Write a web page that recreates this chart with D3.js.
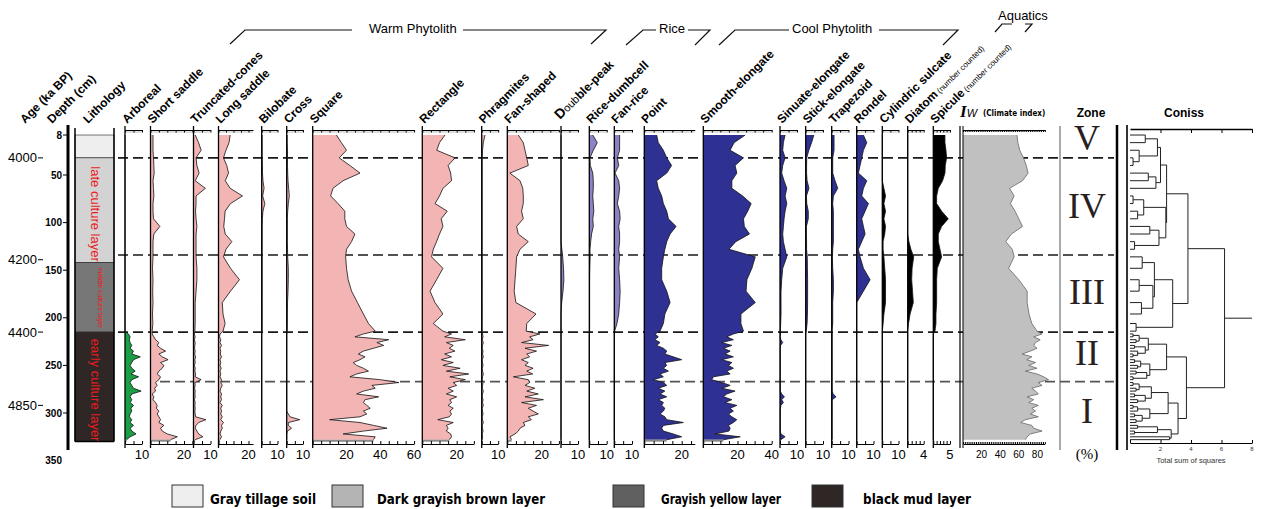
<!DOCTYPE html>
<html>
<head>
  <meta charset="utf-8">
  <title>Phytolith diagram</title>
  <script src="https://d3js.org/d3.v7.min.js"></script>
  <style>
    body { margin: 0; background: #fff; }
    svg { font-family: "Liberation Sans", Arial, sans-serif; display: block; }
    .hdr { font-size: 12px; font-weight: bold; fill: #000; }
    .narrow { font-family: "Liberation Sans Narrow", "DejaVu Sans Condensed", sans-serif; }
  </style>
</head>
<body>
<div id="chart"></div>
<script>
// ---- data ----
// sample depths in cm: coarse in upper part, dense in the early culture layer
var depths = [8,16,24,32,40,48,56,64,72,80,88,96,104,112,120,128,136,148,160,172,184,196,206,214,
  217,220,223,226,229,232,235,238,241,244,247,250,253,256,259,262,265,268,271,274,277,280,283,286,289,292,295,298,301,304,307,310,313,316,319,322,325,328];

var arboreal = [0,0,0,0,0,0,0,0,0,0,0,0,0,0,0,0,0,0,0,0,0,0,0,0,
  2,3,2.5,3,4,3,5,4,9,5,4,3,4,6,3.5,8,4,3,4,5,9.5,4,3,4,3,5,3.5,4,3,2.5,4,3,5,3,4,6.5,3,1];
var shortSaddle = [1.5,1.5,1.5,1.8,2,2.2,1.5,1.8,2,1.5,1.5,1.8,5.6,2,1.5,1.5,1.5,1.2,1.5,1.3,1.5,1.2,1.4,1,
  1,2,3,5,4,6,9,5,7,10.5,6,8,7,5,4,6,5,3,4,2.5,3,1,2,1.5,3,4,3.5,5,4,5,6,5,8,6,7,10,16,12];
var truncatedCones = [1,3,4.5,1.5,2,3.3,1,7,1.5,1.5,1.2,1.5,2,1.5,1.5,1.5,1.5,2,2,1.5,1,1,1,0.8,
  0.5,1,0.5,1,0.8,0.6,1,0.7,1.2,0.8,1,0.6,1,0.8,1.2,1,4.5,0.8,1,0.6,1,0.8,1,0.6,1,0.8,1,0.8,1,1.2,7.3,3,1.5,1,2,3,5.5,1];
var longSaddle = [7.8,7,5,3.3,5.5,6.7,4.5,7.8,16,8,4.4,4,3.5,4.5,8.9,5,3.3,8,14,8,2.5,3,4.4,3,
  1,0.7,1.5,1,2,1,1.5,1.2,2,1,1.5,1,1.8,1,1.5,1,2,1.5,2.5,1.5,1,2,1.5,2,1,2.5,1.5,2,1.5,2.5,1.5,3.3,2,2.5,1.5,1,2,1];
var bilobate = [0.3,0.3,0.3,0.3,0.5,0.5,0.8,1.5,0.6,2,0.8,0.4,0.3,0.3,0.3,0.3,0.3,0.3,0.3,0.3,0.3,0.3,0.3,0.3,
  0,0,0,0,0,0,0,0,0,0,0,0,0,0,0,0,0,0,0,0,0,0,0,0,0,0,0,0,0,0,0,0,0,0,0,0,0,0];
var cross = [0.3,0.3,0.5,0.5,0.5,0.6,0.8,1.2,1.6,1,0.6,0.4,0.4,0.4,0.4,0.5,0.6,1,1,0.8,0.5,0.4,0.4,0.3,
  0,0,0,0,0,0,0,0,0,0,0,0,0,0,0,0,0,0,0,0,0,0,0,0,0,0,0,0,1,2,8,1,1,3,0.5,0,0,0];
var square = [14,17,20,15.7,22,28,18,12,10.6,15,19,19,20,25,23,20,19.5,20,21,23,26.5,30,33,37,
  30,25,45,38,42,36,30,27,31,28,24,26,30,33,26,22,40,51,35,37,30,26,39,31,30,32,34,30,32,28,10,28,36,44,30,18,37,36];
var rectangle = [13.2,10,8.4,19,15,16.5,17,12,10,7.4,14.5,11,12,10,8.3,6.4,5.4,12,8.3,4.5,7.4,12,6.4,12,
  17,13,25,14,18,15.7,19,13,17,11,18,12,22,14,27,16,25,18,20,15,18,14,20,16,17,15,18,16,17,15.7,9,18,14,15,14,16.5,17,15.7];
var phragmites = [2,1,0.5,0.3,0.3,0.3,0.3,0.3,0.3,0.3,0.3,0.3,0.3,0.3,0.3,0.3,0.3,0.3,0.3,0.3,0.3,0.3,0.3,0.3,
  0.5,0.8,0.3,1,0.5,0.3,0.8,0.5,1,0.3,0.5,0.8,0.3,0.5,1,0.5,0.3,0.8,0.5,0.3,1,0.5,0.3,0.8,0.5,1,0.3,0.5,0.8,0.3,0.5,1,0.3,0.5,0.8,0.3,0.5,0.3];
var fanShaped = [6.4,9.3,10.3,11.3,12.2,1.5,7.4,9,9.3,9.3,8.3,9.3,5.4,6.4,12.2,7.4,5.4,5,4.5,4,5,16.7,11.3,11,
  19,13,15,8.3,24,10.3,17,11.3,13,8.3,12.2,10.3,15,11.3,14.8,3.5,12.2,13,10.3,16,11.3,18,10.3,21,8.3,17,12.2,15,18,12.2,14,9.3,10.3,7.4,6.4,4.5,1.5,2.5];
var doublePeak = [0,0,0,0,0,0,0,0,0,0,0,0,0,0,0,0.5,1,1.5,1.7,1.2,0.4,0,0,0,
  0,0,0,0,0,0,0,0,0,0,0,0,0,0,0,0,0,0,0,0,0,0,0,0,0,0,0,0,0,0,0,0,0,0,0,0,0,0];
var riceDumbcell = [2,4.6,2.3,0.4,0.6,2,2.3,2.3,2,2.3,2.6,2,2.3,1.3,0.8,0.4,0.5,0.3,0.2,0.2,0.2,0.2,0.2,0.2,
  0,0,0,0,0,0,0,0,0,0,0,0,0,0,0,0,0,0,0,0,0,0,0,0,0,0,0,0,0,0,0,0,0,0,0,0,0,0];
var fanRice = [3,3,3,1.7,2.5,0.4,2.5,3,2.5,1.7,3,3.3,2.5,3,3,2.5,3,2.5,3,3.3,3,2.5,1.5,0.2,
  0,0,0,0,0,0,0,0,0,0,0,0,0,0,0,0,0,0,0,0,0,0,0,0,0,0,0,0,0,0,0,0,0,0,0,0,0,0];
var point = [6.6,7.5,10.2,12,14.6,12,6.6,7.5,9.3,10.2,12,12.9,17,13.8,12,11,10.2,9.3,9.3,12,13.8,11,10.2,8.4,
  5.7,7.5,5.7,8.4,6.6,10.2,12,11,15.5,20,11,12,10.2,12.9,8.4,10.2,4.8,10.2,12,7.5,11,8.4,12,7.5,10.2,9.3,11,10.2,8.4,11,12,20.9,10.2,9.3,10.2,15.5,20,12];
var smoothElongate = [24.5,18,15.7,23.5,18.6,19.6,16.7,16.7,23,28,26,23.5,24,27,19,15,30.4,28.4,25.5,25,30.4,22,22,23.5,
  17.6,13.7,17.6,10.8,16.7,11.8,15.7,12.7,17.6,10.8,16.7,14.7,17.6,13.7,15.7,5.9,4.9,10.8,15.7,10.8,18.6,13.7,11.8,16.7,12.7,19.6,15.7,17.6,14.7,16.7,19.6,17.6,14.7,15.7,15,6.9,21.6,11.8];
var sinuateElongate = [3,2,1.6,3,1.6,1,2.4,4,3,4,3,2.4,2,1.6,2,3,4,1.6,1,0.6,0.6,0.6,0.4,0.2,
  0.3,0,0.5,1.6,0.3,0.2,0.2,0.2,0.2,0.2,0.2,0.2,0.2,0.2,0.2,0.2,0.2,0.2,0.2,0.2,0.2,1,2.6,1,2,0.5,0.3,0.2,0.2,0.2,0.2,0.2,0.2,0.2,0.2,0.5,3,0.5];
var stickElongate = [4.7,3.4,1.8,0.6,0.5,0.5,0.8,1.9,0.4,0.6,1.5,1.5,0.4,0.4,0.5,0.5,0.9,1,1.1,1.1,1.1,1,0.8,0.3,
  0,0,0,0,0,0,0,0,0,0,0,0,0,0,0,0,0,0,0,0,0,0,0,0,0,0,0,0,0,0,0,0,0,0,0,0,0,0];
var trapezoid = [1.4,1.4,1.4,0.6,0.6,0.6,2,3.6,1,0.6,1,1,1,1,1,0.6,0.4,0.6,1,1,0.6,0.6,0.6,0.2,
  0.3,0.3,0.3,0.3,0.3,0.3,0.3,0.3,0.3,0.3,0.3,0.3,0.3,0.3,0.3,0.3,0.3,0.3,0.3,0.3,0.3,0.8,2.6,0.3,0.3,0.3,0.3,0.3,0.3,0.3,0.3,0.3,0.3,0.3,0.3,0.3,0.3,0.3];
var rondel = [4,6,4,3,2,1,6,4,3,7,5,3,4,5,3,1,2,4,8,4,0,0,0,0,
  0,0,0,0,0,0,0,0,0,0,0,0,0,0,0,0,0,0,0,0,0,0,0,0,0,0,0,0,0,0,0,0,0,0,0,0,0,0];
var cylindricSulcate = [0,0,0,0,0,0,0,1,2,1,2,1,2,1.5,0.5,0.5,1,1.5,2,2,2,1,0.5,0,
  0,0,0,0,0,0,0,0,0,0,0,0,0,0,0,0,0,0,0,0,0,0,0,0,0,0,0,0,0,0,0,0,0,0,0,0,0,0];
var diatom = [0,0,0,0,0,0,0,0,0,0,0,0,0,0,0.3,0.8,1.5,1.1,1,1.2,1.4,0.6,0.2,0,
  0,0,0,0,0,0,0,0,0,0,0,0,0,0,0,0,0,0,0,0,0,0,0,0,0,0,0,0,0,0,0,0,0,0,0,0,0,0];
var spicule = [3.5,3.5,3.8,4,3.6,3.5,2.8,1.5,1,1,2.5,4.5,2.5,1.5,1.5,2,2.5,1.2,1,1,1,0.8,0.8,0.5,
  0,0,0,0,0,0,0,0,0,0,0,0,0,0,0,0,0,0,0,0,0,0,0,0,0,0,0,0,0,0,0,0,0,0,0,0,0,0];
var iw = [58,59,61,65,68,70,64,50,55,51,56,60,64,52,46,53,55,49,60,69,69,71,74,79.6,
  85,76,83,78,76,79.6,72.5,63.6,74,68.6,78,70.7,79.6,67,79.6,86.8,92,81,85,74,78,81,69,76,70.7,81,74,78,72.5,81,67,62,74,76,85,72.5,69,67];

// lithology, zones, ages
var lithTop = [8, 32, 142, 215];
var lithBottom = [32, 142, 215, 330];
var lithNames = ["Gray tillage soil", "Dark grayish brown layer", "Grayish yellow layer", "black mud layer"];
var lithLabels = ["late culture layer", "middle culture layer", "early culture layer"];
var lithLabelDepths = [91, 179, 276];
var zoneDepths = [32, 134, 215, 267];
var zoneNames = ["V", "IV", "III", "II", "I"];
var zoneLabelDepths = [24, 95, 186, 250, 310];
var ageLabels = [4000, 4200, 4400, 4850];
var ageDepths = [32, 139, 215, 292];
var depthTicks = [8, 50, 100, 150, 200, 250, 300, 350];

// CONISS dendrogram: [height, left, right], leaves = sample index
var clusterVIV = [2.4,
  [2.0, [1.8, [1.0, 0, 1], [0.6, 2, [0.2, 3, 4]]], [1.7, [1.2, 5, 6], 7]],
  [2.35, [0.9, [0.2, 8, 9], [0.5, 10, 11]], [1.9, [1.3, 12, 13], [0.3, 14, 15]]]];
var clusterIII = [2.8, [1.6, [0.8, 16, 17], [1.5, [0.6, 18, 19], [0.75, 20, 21]]], [0.4, 22, 23]];
var clusterII = [2.4,
  [1.2, [0.6, [0.2, 24, 25], [0.4, 26, 27]], [1.0, [0.3, 28, 29], [0.5, 30, [0.2, 31, 32]]]],
  [1.3, [0.7, [0.3, 33, 34], [0.5, 35, 36]], [1.1, [0.4, 37, 38], [0.2, 39, 40]]]];
var clusterI = [3.15,
  [2.5, [1.4, [0.6, [0.2, 41, 42], [0.4, 43, 44]], [1.0, [0.3, 45, 46], [0.5, 47, 48]]],
        [1.3, [0.5, [0.2, 49, 50], 51], [0.8, [0.3, 52, 53], [0.4, 54, 55]]]],
  [2.7, [1.8, [0.5, 56, 57], [0.3, 58, 59]], [2.6, 60, 61]]];
var conissTree = [6.2, [3.8, clusterVIV, clusterIII], [3.7, clusterII, clusterI]];

// ---- styles / layout ----
var PINK = "#f3b4b4", NAVY = "#2e3192", LAV = "#8a84c6", GREEN = "#1a9e46", BLACK = "#000";
var lithColors = ["#eeeeee", "#d3d3d3", "#777777", "#2f2725"];
var legendColors = ["#eeeeee", "#b4b4b4", "#606060", "#2f2725"];

var panels = [
  {name: [["Arboreal"]], values: arboreal, x0: 125, k: 1.7, max: 10, step: 5, labels: [10], fill: GREEN},
  {name: [["Short saddle"]], values: shortSaddle, x0: 150.5, k: 1.675, max: 25, step: 5, labels: [20], fill: PINK},
  {name: [["Truncated-cones"]], values: truncatedCones, x0: 193.5, k: 1.7, max: 10, step: 5, labels: [10], fill: PINK},
  {name: [["Long saddle"]], values: longSaddle, x0: 218.5, k: 1.5, max: 23, step: 5, labels: [20], fill: PINK},
  {name: [["Bilobate"]], values: bilobate, x0: 261.7, k: 1.58, max: 10, step: 5, labels: [10], fill: PINK},
  {name: [["Cross"]], values: cross, x0: 286.7, k: 1.63, max: 10, step: 5, labels: [10], fill: PINK},
  {name: [["Square"]], values: square, x0: 312.7, k: 1.69, max: 60, step: 5, labels: [20, 40, 60], fill: PINK},
  {name: [["Rectangle"]], values: rectangle, x0: 422.3, k: 1.72, max: 30, step: 5, labels: [20], fill: PINK},
  {name: [["Phragmites"]], values: phragmites, x0: 481.7, k: 1.65, max: 10, step: 5, labels: [10], fill: PINK},
  {name: [["Fan-shaped"]], values: fanShaped, x0: 507.3, k: 1.72, max: 30, step: 5, labels: [20], fill: PINK},
  {name: [["D", 14, "bold"], ["oub", 11, "normal"], ["ble-peak", 12, "bold"]], values: doublePeak, x0: 561, k: 1.7, max: 10, step: 5, labels: [10], fill: LAV, dx: -3, dy: -4},
  {name: [["Rice-dumbcell"]], values: riceDumbcell, x0: 589.3, k: 1.74, max: 10, step: 5, labels: [10], fill: LAV},
  {name: [["Fan-rice"]], values: fanRice, x0: 614.3, k: 1.77, max: 10, step: 5, labels: [10], fill: LAV},
  {name: [["Point"]], values: point, x0: 644.3, k: 1.87, max: 27, step: 5, labels: [20], fill: NAVY},
  {name: [["Smooth-elongate"]], values: smoothElongate, x0: 703.3, k: 1.71, max: 40, step: 5, labels: [20, 40], fill: NAVY},
  {name: [["Sinuate-elongate"]], values: sinuateElongate, x0: 780, k: 1.7, max: 10, step: 5, labels: [10], fill: NAVY},
  {name: [["Stick-elongate"]], values: stickElongate, x0: 805.7, k: 1.73, max: 10, step: 5, labels: [10], fill: NAVY},
  {name: [["Trapezoid"]], values: trapezoid, x0: 831.7, k: 1.68, max: 10, step: 5, labels: [10], fill: NAVY},
  {name: [["Rondel"]], values: rondel, x0: 856.7, k: 1.68, max: 10, step: 5, labels: [10], fill: NAVY},
  {name: [["Cylindric sulcate"]], values: cylindricSulcate, x0: 882.3, k: 1.62, max: 10, step: 5, labels: [10], fill: BLACK},
  {name: [["Diatom", 12, "bold"], [" (number counted)", 8, "normal"]], values: diatom, x0: 907.7, k: 4, max: 4, step: 1, labels: [4], fill: BLACK},
  {name: [["Spicule", 12, "bold"], [" (number counted)", 8, "normal"]], values: spicule, x0: 933.3, k: 3.33, max: 5, step: 1, labels: [5], fill: BLACK}
];

var W = 1262, H = 509;
var svg = d3.select("#chart").append("svg").attr("width", W).attr("height", H);
var y = d3.scaleLinear().domain([0, 350]).range([127.4, 460.6]);
var TOP = 130, BOT = 444;

// zone boundary lines (drawn first, fills cover them)
var zoneX0 = [118, 118, 118, 160];
svg.append("g").selectAll("line").data(zoneDepths).join("line")
  .attr("x1", function(d, i) { return zoneX0[i]; }).attr("x2", 1114)
  .attr("y1", function(d) { return y(d); }).attr("y2", function(d) { return y(d); })
  .attr("stroke", function(d, i) { return i === 3 ? "#555" : "#1a1a1a"; })
  .attr("stroke-width", 1.6).attr("stroke-dasharray", "10,5");

// ---- left: age, depth, lithology ----
svg.append("line").attr("x1", 68).attr("x2", 68).attr("y1", 125).attr("y2", 450)
  .attr("stroke", "#000").attr("stroke-width", 3);
var dt = svg.append("g");
dt.selectAll("line").data(depthTicks.slice(0, -1)).join("line")
  .attr("x1", 63).attr("x2", 68).attr("y1", function(d) { return y(d); }).attr("y2", function(d) { return y(d); })
  .attr("stroke", "#000");
dt.selectAll("text").data(depthTicks).join("text")
  .attr("x", 62).attr("y", function(d) { return y(d); }).attr("dy", "0.35em")
  .attr("text-anchor", "end").attr("font-size", 10).attr("font-weight", "bold").text(function(d) { return d; });

var ag = svg.append("g");
ag.selectAll("text").data(ageLabels).join("text")
  .attr("x", 37).attr("y", function(d, i) { return y(ageDepths[i]); }).attr("dy", "0.35em")
  .attr("text-anchor", "end").attr("font-size", 13).text(function(d) { return d; });
ag.selectAll("line").data(ageLabels).join("line")
  .attr("x1", 38).attr("x2", 43).attr("y1", function(d, i) { return y(ageDepths[i]); }).attr("y2", function(d, i) { return y(ageDepths[i]); })
  .attr("stroke", "#000");

var lith = svg.append("g");
lith.selectAll("rect").data(lithTop).join("rect")
  .attr("x", 75).attr("width", 39)
  .attr("y", function(d) { return y(d); })
  .attr("height", function(d, i) { return y(lithBottom[i]) - y(d); })
  .attr("fill", function(d, i) { return lithColors[i]; })
  .attr("stroke", "#222").attr("stroke-width", 0.6);
lith.append("line").attr("x1", 75).attr("x2", 75).attr("y1", 128).attr("y2", y(330)).attr("stroke", "#000").attr("stroke-width", 1.5);
lith.append("line").attr("x1", 114).attr("x2", 114).attr("y1", 128).attr("y2", y(330)).attr("stroke", "#000").attr("stroke-width", 1.5);
lith.append("line").attr("x1", 75).attr("x2", 114).attr("y1", y(330)).attr("y2", y(330)).attr("stroke", "#000").attr("stroke-width", 1.5);
lith.selectAll("text").data(lithLabels).join("text")
  .attr("transform", function(d, i) { return "translate(" + (i === 1 ? 100 : 95) + "," + y(lithLabelDepths[i]) + ") rotate(90)"; })
  .attr("text-anchor", "middle").attr("dominant-baseline", "central")
  .attr("font-size", function(d, i) { return i === 1 ? 7 : 13; })
  .attr("fill", "#e81c22").text(function(d) { return d; });

function header(x, yy, parts, dx, dy) {
  var t = svg.append("text").attr("class", "hdr")
    .attr("transform", "translate(" + (x + (dx || 0)) + "," + (yy + (dy || 0)) + ") rotate(-45)");
  parts.forEach(function(p) {
    t.append("tspan").attr("font-size", p[1] || 12).attr("font-weight", p[2] || "bold").text(p[0]);
  });
}
header(25, 124, [["Age (ka BP)"]]);
header(52, 124, [["Depth (cm)"]]);
header(88, 124, [["Lithology"]]);

// ---- taxa panels ----
panels.forEach(function(p) {
  var x = d3.scaleLinear().domain([0, p.max]).range([p.x0, p.x0 + p.k * p.max]);
  var rows = depths.map(function(d, i) { return {d: d, v: p.values[i]}; });
  var g = svg.append("g");
  g.append("path").datum(rows)
    .attr("d", d3.area().x0(x(0)).x1(function(r) { return x(r.v); }).y(function(r) { return y(r.d); }))
    .attr("fill", p.fill);
  g.append("path").datum(rows)
    .attr("d", d3.line().x(function(r) { return x(r.v); }).y(function(r) { return y(r.d); }))
    .attr("fill", "none").attr("stroke", "#111").attr("stroke-width", 0.8);
  g.append("line").attr("x1", x(0)).attr("x2", x(p.max)).attr("y1", 132).attr("y2", 132)
    .attr("stroke", "#bbb").attr("stroke-width", 1);
  g.append("line").attr("x1", x(0)).attr("x2", x(rows[rows.length - 1].v)).attr("y1", y(328) + 1).attr("y2", y(328) + 1)
    .attr("stroke", "#888").attr("stroke-width", 2);
  g.append("line").attr("x1", x(0)).attr("x2", x(0)).attr("y1", 126).attr("y2", 448)
    .attr("stroke", "#000").attr("stroke-width", 1.3);
  var ticks = d3.range(0, p.max + 0.001, p.step);
  g.append("g").attr("transform", "translate(0," + TOP + ")")
    .call(d3.axisBottom(x).tickValues(ticks).tickSize(2.5).tickSizeOuter(0).tickFormat(""));
  g.append("g").attr("transform", "translate(0," + BOT + ")")
    .call(d3.axisTop(x).tickValues(ticks).tickSize(3).tickSizeOuter(0).tickFormat(""));
  g.selectAll("text.lab").data(p.labels).join("text").attr("class", "lab")
    .attr("x", function(d) { return x(d); }).attr("y", 459)
    .attr("text-anchor", "middle").attr("font-size", 13).text(function(d) { return d; });
  header(p.x0 + 2, 124, p.name, p.dx, p.dy);
});

// ---- Iw climate index ----
(function() {
  var x = d3.scaleLinear().domain([0, 88]).range([963, 963 + 0.93 * 88]);
  var rows = depths.map(function(d, i) { return {d: d, v: iw[i]}; });
  var g = svg.append("g");
  g.append("path").datum(rows)
    .attr("d", d3.area().x0(x(0)).x1(function(r) { return x(r.v); }).y(function(r) { return y(r.d); }))
    .attr("fill", "#c0c0c0");
  g.append("path").datum(rows)
    .attr("d", d3.line().x(function(r) { return x(r.v); }).y(function(r) { return y(r.d); }))
    .attr("fill", "none").attr("stroke", "#666").attr("stroke-width", 0.8);
  g.append("line").attr("x1", 960).attr("x2", 960).attr("y1", 126).attr("y2", 448).attr("stroke", "#000").attr("stroke-width", 1.2);
  g.append("line").attr("x1", x(0)).attr("x2", x(0)).attr("y1", 126).attr("y2", 448).attr("stroke", "#000").attr("stroke-width", 1);
  g.append("line").attr("x1", 1060).attr("x2", 1060).attr("y1", 126).attr("y2", 450).attr("stroke", "#555").attr("stroke-width", 1);
  var ticks = d3.range(0, 88.1, 2);
  g.append("g").attr("transform", "translate(0," + TOP + ")")
    .call(d3.axisBottom(x).tickValues(ticks).tickSize(2).tickSizeOuter(0).tickFormat(""));
  g.append("g").attr("transform", "translate(0," + BOT + ")")
    .call(d3.axisTop(x).tickValues(ticks).tickSize(2).tickSizeOuter(0).tickFormat(""));
  g.selectAll("text.lab").data([20, 40, 60, 80]).join("text").attr("class", "lab")
    .attr("x", function(d) { return x(d); }).attr("y", 458)
    .attr("text-anchor", "middle").attr("font-size", 10).text(function(d) { return d; });
  var t = svg.append("text").attr("x", 960).attr("y", 117);
  t.append("tspan").attr("font-family", "Liberation Serif, serif").attr("font-style", "italic").attr("font-weight", "bold").attr("font-size", 17).text("I");
  t.append("tspan").attr("font-style", "italic").attr("font-size", 11).text("W");
  svg.append("text").attr("class", "narrow").attr("x", 983).attr("y", 116)
    .attr("font-size", 8).attr("font-weight", "bold").text("(Climate index)");
})();

// ---- zones ----
svg.append("line").attr("x1", 1117).attr("x2", 1117).attr("y1", 125).attr("y2", 450).attr("stroke", "#000").attr("stroke-width", 2.5);
svg.append("text").attr("x", 1091).attr("y", 117).attr("text-anchor", "middle")
  .attr("font-size", 12).attr("font-weight", "bold").text("Zone");
svg.append("g").selectAll("text").data(zoneNames).join("text")
  .attr("x", 1087).attr("y", function(d, i) { return y(zoneLabelDepths[i]); })
  .attr("text-anchor", "middle").attr("font-family", "Liberation Serif, serif")
  .attr("font-size", 36).attr("fill", "#2a1f1f").text(function(d) { return d; });
svg.append("text").attr("x", 1087).attr("y", 459).attr("text-anchor", "middle")
  .attr("font-family", "Liberation Serif, serif").attr("font-size", 15).text("(%)");

// ---- CONISS ----
(function() {
  var cx = d3.scaleLinear().domain([0, 8]).range([1130, 1252]);
  var g = svg.append("g").attr("stroke", "#222").attr("stroke-width", 1).attr("fill", "none");
  svg.append("line").attr("x1", 1127).attr("x2", 1127).attr("y1", 125).attr("y2", 450).attr("stroke", "#000").attr("stroke-width", 1.6);
  svg.append("g").attr("transform", "translate(0,129)")
    .call(d3.axisBottom(cx).tickValues([2, 4, 6, 8]).tickSize(4).tickSizeOuter(0).tickFormat(""))
    .call(function(a) { a.select(".domain").attr("stroke-width", 1.5); });
  svg.append("g").attr("transform", "translate(0,443)")
    .call(d3.axisTop(cx).tickValues([0, 2, 4, 6, 8]).tickSize(3).tickSizeOuter(0).tickFormat(""));
  svg.append("g").selectAll("text").data([2, 4, 6, 8]).join("text")
    .attr("x", function(d) { return cx(d); }).attr("y", 451).attr("text-anchor", "middle")
    .attr("font-size", 6).attr("fill", "#333").text(function(d) { return d; });
  svg.append("text").attr("x", 1191).attr("y", 463).attr("text-anchor", "middle")
    .attr("font-size", 7.5).attr("fill", "#333").text("Total sum of squares");
  svg.append("text").attr("x", 1184).attr("y", 117).attr("text-anchor", "middle")
    .attr("font-size", 12).attr("font-weight", "bold").text("Coniss");

  var root = d3.hierarchy(conissTree, function(d) { return Array.isArray(d) ? d.slice(1) : null; });
  root.eachAfter(function(n) {
    if (n.children) { n.h = n.data[0]; n.py = d3.mean(n.children, function(c) { return c.py; }); }
    else { n.h = 0; n.py = y(depths[n.data]); }
  });
  root.each(function(n) {
    if (!n.children) return;
    g.append("line").attr("x1", cx(n.h)).attr("x2", cx(n.h))
      .attr("y1", n.children[0].py).attr("y2", n.children[1].py);
    n.children.forEach(function(c) {
      g.append("line").attr("x1", cx(c.h)).attr("x2", cx(n.h)).attr("y1", c.py).attr("y2", c.py);
    });
  });
  g.append("line").attr("x1", cx(root.h)).attr("x2", cx(8)).attr("y1", root.py).attr("y2", root.py);
})();

// ---- group brackets ----
var brackets = [
  [[230, 44], [245, 30], [352, 30]], [[463, 30], [606, 30], [591, 44]],
  [[626, 45], [643, 30], [656, 30]], [[688, 30], [710, 30], [695, 45]],
  [[719, 45], [735, 30], [789, 30]], [[879, 30], [958, 30], [943, 45]],
  [[995, 32], [1002, 24], [1012, 24]], [[1025, 24], [1032, 24], [1025, 32]]
];
svg.append("g").selectAll("path").data(brackets).join("path")
  .attr("d", d3.line()).attr("fill", "none").attr("stroke", "#111").attr("stroke-width", 1.2);
var groupNames = ["Warm Phytolith", "Rice", "Cool Phytolith", "Aquatics"];
var groupX = [369, 659, 792, 998], groupY = [33, 33, 33, 20];
svg.append("g").selectAll("text").data(groupNames).join("text")
  .attr("x", function(d, i) { return groupX[i]; }).attr("y", function(d, i) { return groupY[i]; })
  .attr("font-size", 13).text(function(d) { return d; });

// ---- legend ----
var legX = [172, 332, 613, 812], legTX = [210, 377, 661, 863];
var leg = svg.append("g");
leg.selectAll("rect").data(lithNames).join("rect")
  .attr("x", function(d, i) { return legX[i]; }).attr("y", 485).attr("width", 31).attr("height", 22)
  .attr("fill", function(d, i) { return legendColors[i]; }).attr("stroke", "#333").attr("stroke-width", 1);
leg.selectAll("text").data(lithNames).join("text").attr("class", "narrow")
  .attr("x", function(d, i) { return legTX[i]; }).attr("y", 504)
  .attr("font-size", 13.5).attr("font-weight", "bold").attr("textLength", function(d, i) { return [106, 168, 120, 108][i]; })
  .attr("lengthAdjust", "spacingAndGlyphs").text(function(d) { return d; });
</script>
</body>
</html>
